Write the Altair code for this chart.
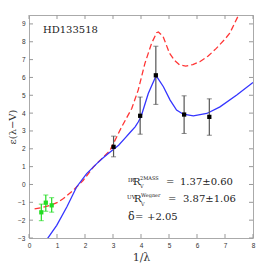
import altair as alt
import pandas as pd

# Red dashed model curve
red_x = [0.2, 0.5, 0.75, 1.0, 1.23, 1.58, 1.94, 2.3, 2.6, 2.89, 3.0, 3.31, 3.67, 3.9, 4.14, 4.38, 4.56, 4.62,
         4.79, 5.02, 5.2, 5.38, 5.6, 5.85, 6.1, 6.4, 6.69, 7.0, 7.17, 7.55]
red_y = [-1.37, -1.28, -1.18, -1.02, -0.79, -0.33, 0.24, 0.98, 1.45, 1.9, 2.25, 3.23, 4.26, 5.29, 6.79, 7.92, 8.51, 8.55,
         8.29, 7.35, 6.95, 6.7, 6.64, 6.72, 6.88, 7.2, 7.63, 8.15, 8.48, 9.7]
# Blue solid model curve
blue_x = [0.63, 0.99, 1.35, 1.7, 2.06, 2.42, 2.65, 2.8, 3.0, 3.2, 3.43, 3.6, 3.79, 3.9, 4.0, 4.26, 4.4, 4.52, 4.58,
          4.8, 5.04, 5.27, 5.51, 5.87, 6.35, 6.82, 7.42, 8.0]
blue_y = [-3.1, -2.29, -1.26, -0.14, 0.61, 1.17, 1.5, 1.7, 1.95, 2.2, 2.6, 2.9, 3.23, 3.5, 3.8, 5.1, 5.6, 6.02, 6.0,
          5.48, 4.73, 4.17, 3.94, 3.85, 3.98, 4.35, 5.01, 5.72]
# Black data points (UV)
uv_x = [3.02, 3.97, 4.53, 5.54, 6.44]
uv_y = [2.11, 3.85, 6.12, 3.92, 3.79]
uv_lo = [1.55, 2.82, 4.49, 2.86, 2.76]
uv_hi = [2.71, 4.9, 7.75, 4.97, 4.8]
# Green data points (IR)
ir_x = [0.44, 0.6, 0.81]
ir_y = [-1.56, -1.02, -1.17]
ir_lo = [-2.03, -1.5, -1.55]
ir_hi = [-1.1, -0.59, -0.74]

x_ticks = [0, 1, 2, 3, 4, 5, 6, 7, 8]
y_ticks = [-3, -2, -1, 0, 1, 2, 3, 4, 5, 6, 7, 8, 9]

red = pd.DataFrame({"x": red_x, "y": red_y})
blue = pd.DataFrame({"x": blue_x, "y": blue_y})
uv = pd.DataFrame({"x": uv_x, "y": uv_y, "lo": uv_lo, "hi": uv_hi})
ir = pd.DataFrame({"x": ir_x, "y": ir_y, "lo": ir_lo, "hi": ir_hi})
xt = pd.DataFrame({"t": x_ticks})
yt = pd.DataFrame({"t": y_ticks})

W, H = 224, 223
xs = alt.Scale(domain=[0, 8], nice=False, zero=False)
ys = alt.Scale(domain=[-3, 9.5], nice=False, zero=False)

common = dict(domain=False, ticks=False, grid=False, labelFont="Liberation Sans", labelFontSize=6.5,
              labelColor="#333", labelPadding=4, labelOverlap=False, labelFlush=False,
              titleFont="DejaVu Serif", titleFontWeight="normal", titleColor="#333")
XA = alt.Axis(values=x_ticks, title="1/λ", titlePadding=3, titleFontSize=11, **common)
YA = alt.Axis(values=y_ticks, title="ε(λ−V)", titlePadding=0, titleFontSize=10, **common)

def xq(f="x"):
    return alt.X(f + ":Q", scale=xs, axis=XA)

def yq(f="y"):
    return alt.Y(f + ":Q", scale=ys, axis=YA)

red_line = alt.Chart(red).mark_line(color="#ff3535", strokeWidth=1.3, strokeDash=[6, 3], clip=True).encode(
    x=xq(), y=yq())
blue_line = alt.Chart(blue).mark_line(color="#3535ff", strokeWidth=1.3, clip=True).encode(x=xq(), y=yq())

def errs(df, col):
    base = alt.Chart(df)
    bars = base.mark_rule(color=col, strokeWidth=1.2).encode(x=xq(), y=yq("lo"), y2="hi:Q")
    caps_lo = base.mark_tick(color=col, orient="horizontal", size=5, thickness=1).encode(x=xq(), y=yq("lo"))
    caps_hi = base.mark_tick(color=col, orient="horizontal", size=5, thickness=1).encode(x=xq(), y=yq("hi"))
    return bars + caps_lo + caps_hi

uv_err = errs(uv, "#555555")
ir_err = errs(ir, "#22dd22")
uv_pts = alt.Chart(uv).mark_square(color="black", size=18, opacity=1).encode(x=xq(), y=yq())
ir_pts = alt.Chart(ir).mark_square(color="#22dd22", size=18, opacity=1).encode(x=xq(), y=yq())

tc = "#999999"
t_bot = alt.Chart(xt).mark_rule(color=tc).encode(x=xq("t"), y=alt.value(H), y2=alt.value(H - 4))
t_top = alt.Chart(xt).mark_rule(color=tc).encode(x=xq("t"), y=alt.value(0), y2=alt.value(4))
t_left = alt.Chart(yt).mark_rule(color=tc).encode(y=yq("t"), x=alt.value(0), x2=alt.value(4))
t_right = alt.Chart(yt).mark_rule(color=tc).encode(y=yq("t"), x=alt.value(W), x2=alt.value(W - 4))

def txt(s, x, y, size, font="DejaVu Serif", style="normal"):
    return alt.Chart(xt).transform_filter("datum.t == 0").mark_text(
        align="left", baseline="alphabetic", font=font, fontSize=size, fontStyle=style, color="#222").encode(
        x=alt.value(x), y=alt.value(y), text=alt.value(s))

anns = [
    txt("HD133518", 14, 18, 10),
    txt("IR", 99, 167, 5.5), txt("R", 104, 170, 10), txt("V", 111, 172.5, 5), txt("2MASS", 111, 165, 5),
    txt("=", 137, 170, 10), txt("1.37±0.60", 151, 170, 10),
    txt("UV", 98, 184, 5.5), txt("R", 105, 187, 10), txt("V", 112, 190.5, 5), txt("Wegner", 112, 181.5, 5),
    txt("=", 139, 187, 10), txt("3.87±1.06", 154, 187, 10),
    txt("δ", 99, 205, 11), txt("=", 106, 205, 10), txt("+2.05", 118, 205, 10),
]

chart = alt.layer(red_line, blue_line, uv_err, ir_err, uv_pts, ir_pts, t_bot, t_top, t_left, t_right, *anns).properties(
    width=W, height=H, autosize=alt.AutoSizeParams(type="none"),
    padding={"left": 21, "top": 7, "right": 5, "bottom": 30},
).configure_view(stroke="#aaaaaa", strokeWidth=1)

chart.save("out.html", embed_options={"renderer": "svg", "actions": False})
